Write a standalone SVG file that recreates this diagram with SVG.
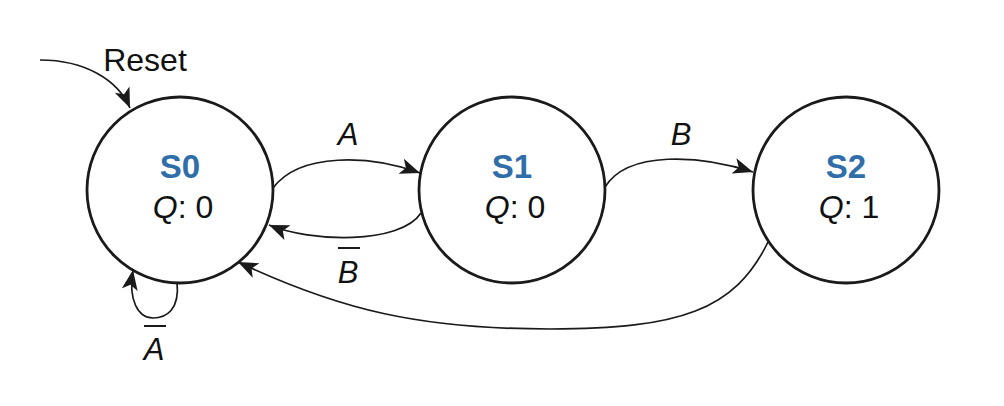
<svg xmlns="http://www.w3.org/2000/svg" width="1004" height="406" viewBox="0 0 1004 406">
<style>
.state{fill:#fff;stroke:#1a1a1a;stroke-width:2.8}
.name{font-family:"Liberation Sans",Arial,sans-serif;font-weight:bold;font-size:33px;fill:#2f6ea8;text-anchor:middle}
.out{font-family:"Liberation Sans",Arial,sans-serif;font-size:32px;fill:#111;text-anchor:middle}
.lbl{font-family:"Liberation Sans",Arial,sans-serif;font-size:31px;fill:#111;text-anchor:middle;font-style:italic}
.edge{fill:none;stroke:#1a1a1a;stroke-width:1.7}
.bar{stroke:#1a1a1a;stroke-width:2}
</style>
<defs>
<marker id="arr" markerUnits="userSpaceOnUse" markerWidth="22" markerHeight="18" refX="20" refY="8" orient="auto">
<path d="M0,0 L20,8 L0,16 L5,8 z" fill="#1a1a1a"/>
</marker>
</defs>
<g id="connectors">
<path class="edge" d="M40,60 C85,60 118,80 130,108" marker-end="url(#arr)"/>
<path class="edge" d="M273,188 C300,152 370,155 420,173" marker-end="url(#arr)"/>
<path class="edge" d="M421,213 C400,245 310,242 269,225" marker-end="url(#arr)"/>
<path class="edge" d="M605,187 C628,150 700,155 753,172" marker-end="url(#arr)"/>
<path class="edge" d="M768,242 C735,310 680,329 550,329 C420,329 340,310 238,262" marker-end="url(#arr)"/>
<path class="edge" d="M177,282 C180,310 166,318 153,318 C138,318 128,300 133,270" marker-end="url(#arr)"/>
</g>
<g id="S0">
<circle class="state" cx="180" cy="190" r="93"/>
<text class="name" x="180" y="178">S0</text>
<text class="out" x="183" y="218"><tspan font-style="italic">Q</tspan>: 0</text>
</g>
<g id="S1">
<circle class="state" cx="512" cy="190" r="93"/>
<text class="name" x="512" y="178">S1</text>
<text class="out" x="515" y="218"><tspan font-style="italic">Q</tspan>: 0</text>
</g>
<g id="S2">
<circle class="state" cx="846" cy="190" r="93"/>
<text class="name" x="846" y="178">S2</text>
<text class="out" x="849" y="218"><tspan font-style="italic">Q</tspan>: 1</text>
</g>
<g id="labels">
<text class="out" x="145" y="71">Reset</text>
<text class="lbl" x="348" y="145">A</text>
<text class="lbl" x="681" y="145">B</text>
<text class="lbl" x="348" y="283">B</text>
<line class="bar" x1="338" y1="248" x2="360" y2="248"/>
<text class="lbl" x="154" y="360">A</text>
<line class="bar" x1="144" y1="326" x2="166" y2="326"/>
</g>
</svg>
